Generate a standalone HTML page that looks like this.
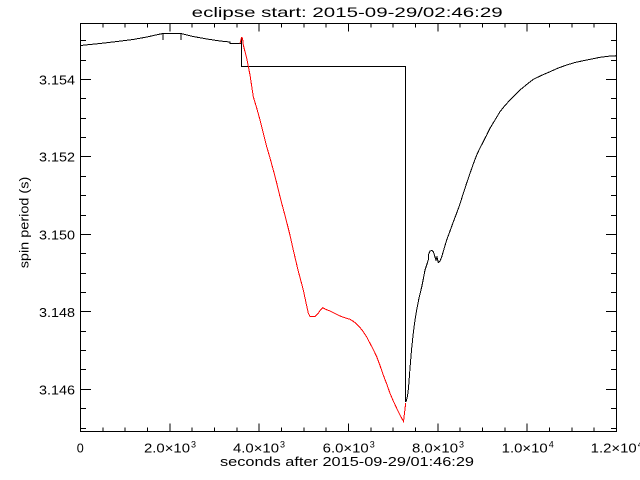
<!DOCTYPE html>
<html>
<head>
<meta charset="utf-8">
<style>
  html, body { margin: 0; padding: 0; background: #fff; }
  svg { display: block; }
  text { font-family: "Liberation Sans", "DejaVu Sans", sans-serif; fill: #000; }
</style>
</head>
<body>
<svg width="640" height="480" viewBox="0 0 640 480" xmlns="http://www.w3.org/2000/svg">
  <rect x="0" y="0" width="640" height="480" fill="#fff"/>

  <!-- Title -->
  <text x="191.7" y="17" font-size="14" textLength="311" lengthAdjust="spacingAndGlyphs">eclipse start: 2015-09-29/02:46:29</text>

  <!-- Axis box -->
  <g stroke="#000" stroke-width="1" fill="none" shape-rendering="crispEdges">
    <rect x="80.5" y="23.5" width="536" height="408"/>

    <!-- X major ticks bottom & top -->
    <path d="M169.8,431.5V423.3 M259.2,431.5V423.3 M348.5,431.5V423.3 M437.8,431.5V423.3 M527.2,431.5V423.3
             M169.8,23.5V31.7 M259.2,23.5V31.7 M348.5,23.5V31.7 M437.8,23.5V31.7 M527.2,23.5V31.7"/>
    <!-- X minor ticks -->
    <path d="M102.8,431.5V427.4 M125.2,431.5V427.4 M147.5,431.5V427.4
             M192.2,431.5V427.4 M214.5,431.5V427.4 M236.8,431.5V427.4
             M281.5,431.5V427.4 M303.8,431.5V427.4 M326.2,431.5V427.4
             M370.8,431.5V427.4 M393.2,431.5V427.4 M415.5,431.5V427.4
             M460.2,431.5V427.4 M482.5,431.5V427.4 M504.8,431.5V427.4
             M549.5,431.5V427.4 M571.8,431.5V427.4 M594.2,431.5V427.4
             M102.8,23.5V27.6 M125.2,23.5V27.6 M147.5,23.5V27.6
             M192.2,23.5V27.6 M214.5,23.5V27.6 M236.8,23.5V27.6
             M281.5,23.5V27.6 M303.8,23.5V27.6 M326.2,23.5V27.6
             M370.8,23.5V27.6 M393.2,23.5V27.6 M415.5,23.5V27.6
             M460.2,23.5V27.6 M482.5,23.5V27.6 M504.8,23.5V27.6
             M549.5,23.5V27.6 M571.8,23.5V27.6 M594.2,23.5V27.6"/>

    <!-- Y major ticks left & right -->
    <path d="M80.5,389.5H91.2 M80.5,311.5H91.2 M80.5,234.5H91.2 M80.5,156.5H91.2 M80.5,79.5H91.2
             M616.5,389.5H605.8 M616.5,311.5H605.8 M616.5,234.5H605.8 M616.5,156.5H605.8 M616.5,79.5H605.8"/>
    <!-- Y minor ticks -->
    <path d="M80.5,428.5H85.9 M80.5,408.5H85.9
             M80.5,369.5H85.9 M80.5,350.5H85.9 M80.5,331.5H85.9
             M80.5,292.5H85.9 M80.5,273.5H85.9 M80.5,253.5H85.9
             M80.5,215.5H85.9 M80.5,195.5H85.9 M80.5,176.5H85.9
             M80.5,137.5H85.9 M80.5,118.5H85.9 M80.5,98.5H85.9
             M80.5,60.5H85.9 M80.5,40.5H85.9
             M616.5,428.5H611.1 M616.5,408.5H611.1
             M616.5,369.5H611.1 M616.5,350.5H611.1 M616.5,331.5H611.1
             M616.5,292.5H611.1 M616.5,273.5H611.1 M616.5,253.5H611.1
             M616.5,215.5H611.1 M616.5,195.5H611.1 M616.5,176.5H611.1
             M616.5,137.5H611.1 M616.5,118.5H611.1 M616.5,98.5H611.1
             M616.5,60.5H611.1 M616.5,40.5H611.1"/>
  </g>

  <!-- Y tick labels -->
  <g font-size="13">
    <text x="39" y="394.5" textLength="36" lengthAdjust="spacingAndGlyphs">3.146</text>
    <text x="39" y="317" textLength="36" lengthAdjust="spacingAndGlyphs">3.148</text>
    <text x="39" y="239.5" textLength="36" lengthAdjust="spacingAndGlyphs">3.150</text>
    <text x="39" y="161.5" textLength="36" lengthAdjust="spacingAndGlyphs">3.152</text>
    <text x="39" y="84.5" textLength="36" lengthAdjust="spacingAndGlyphs">3.154</text>
  </g>

  <!-- X tick labels -->
  <g font-size="13">
    <text x="76.7" y="452.5" textLength="7" lengthAdjust="spacingAndGlyphs">0</text>

    <text x="144" y="452.5" textLength="46" lengthAdjust="spacingAndGlyphs">2.0×10</text>
    <text x="191" y="447.5" font-size="9">3</text>

    <text x="233" y="452.5" textLength="46" lengthAdjust="spacingAndGlyphs">4.0×10</text>
    <text x="280" y="447.5" font-size="9">3</text>

    <text x="322.7" y="452.5" textLength="46" lengthAdjust="spacingAndGlyphs">6.0×10</text>
    <text x="369.7" y="447.5" font-size="9">3</text>

    <text x="412" y="452.5" textLength="46" lengthAdjust="spacingAndGlyphs">8.0×10</text>
    <text x="459" y="447.5" font-size="9">3</text>

    <text x="501.7" y="452.5" textLength="46" lengthAdjust="spacingAndGlyphs">1.0×10</text>
    <text x="548.7" y="447.5" font-size="9">4</text>

    <text x="590.7" y="452.5" textLength="46" lengthAdjust="spacingAndGlyphs">1.2×10</text>
    <text x="637.7" y="447.5" font-size="9">4</text>
  </g>

  <!-- X axis title -->
  <text x="220" y="466" font-size="13" textLength="254" lengthAdjust="spacingAndGlyphs">seconds after 2015-09-29/01:46:29</text>

  <!-- Y axis title -->
  <text transform="translate(28.5,268.3) rotate(-90)" font-size="13" textLength="91.6" lengthAdjust="spacingAndGlyphs">spin period (s)</text>

  <!-- Black data -->
  <g stroke="#000" stroke-width="1" fill="none" shape-rendering="crispEdges" stroke-linejoin="miter">
    <polyline points="80.5,45.5 90,44.5 100,43.5 117,41.5 133,39.5 147,37 158,34.5 163,33.5 163,40 163,33.5 181,33.5 181,40 181,33.5 193,36.5 207,39 220,41 230,42 230,43.5 241,43.5"/>
    <polyline points="241.5,38 241.5,66.5 405.5,66.5 405.5,402"/>
    <polyline points="406,402 407.5,396 408.5,388 410,368 411.5,350 413.3,333 415,320 416.7,310 419,298 421.7,287 423.5,278 425,270 427,264 428.3,260 428.3,255 430,251 432,250.5 433.5,252 435,257 436,260 437,257 438.3,262.5 440,261 441.7,257 444,249 446.7,240 450,231 453.3,222 456.7,213 460,204 463.3,193.3 466.7,183 470,173.3 473.3,164 476.7,155 480,148 483.3,141.7 486.7,135 490,128.3 495,120 500,111.7 505,105.5 510,100 515,95 520,90 526.7,84.5 533.3,79.3 541.7,75.3 550,71.7 558.3,68 566.7,65 575,62.5 583.3,60.7 591.7,59 600,57.3 608,56.3 616.5,55.7"/>
  </g>

  <!-- Red data -->
  <polyline fill="none" stroke="#ff0000" stroke-width="1" shape-rendering="crispEdges"
    points="240,43.5 241.5,37.5 242.5,38 243.3,45 246.7,58.3 250,75 253.3,96.7 256.7,108 260,120 263.3,133 266.7,146.7 270,158 273.3,170 276.7,183 280,196.7 283,208 286,219.3 289.7,234 293.3,250 298,270 303.3,290 306.5,305 308.3,313 310,316.5 315,316.5 318,313.5 320.5,310 322.7,307.7 326,309.5 330,311 335,313.5 340,316 345,317.8 350,319.3 353.3,321.3 356.7,324 360,327.5 363.3,331.7 366.7,337 370,343.3 373.3,349.5 376.7,356.7 380,365.5 383.3,375 386.7,384 390,393.3 393.3,401 396.7,408.3 400,415 403.5,421.5 405.7,403"/>
</svg>
</body>
</html>
